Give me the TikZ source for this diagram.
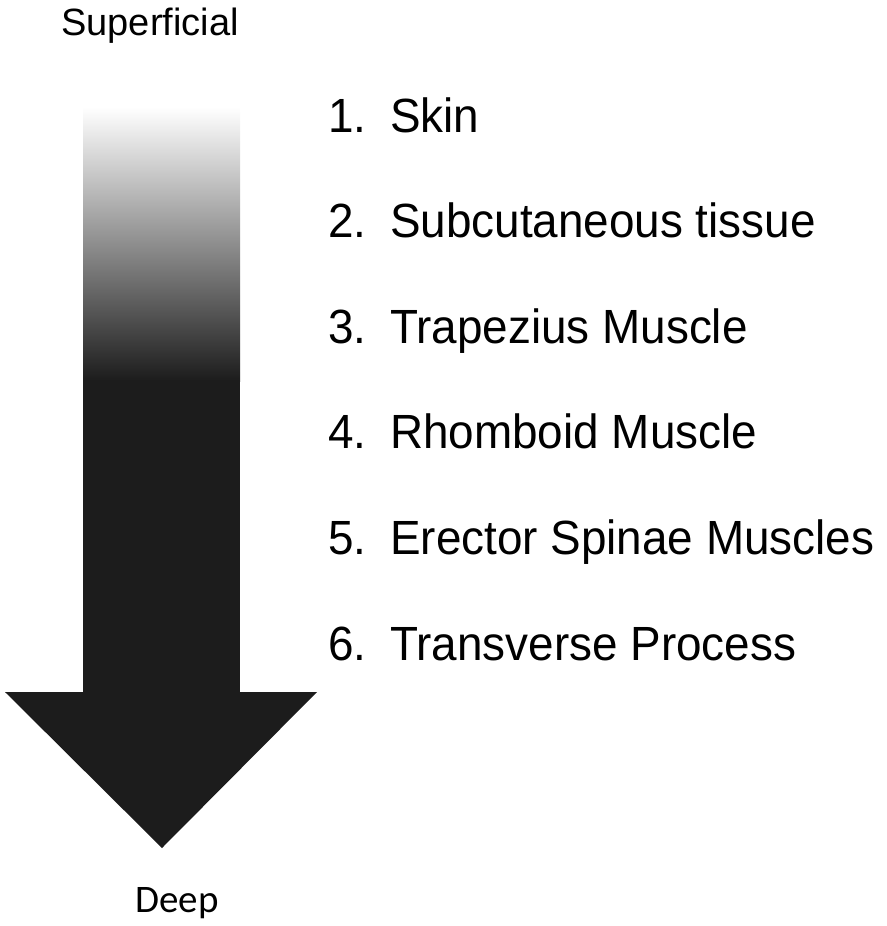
\documentclass[tikz,border=0pt]{standalone}
\usepackage{fontspec}
\setmainfont{Liberation Sans}
\newfontfamily\listfont[FakeStretch=0.955]{Liberation Sans}
\newfontfamily\deepfont{Carlito}
\definecolor{arrowdark}{HTML}{1C1C1C}
\tikzset{
  layer/.style={anchor=base west, inner sep=0pt, font=\listfont\fontsize{48}{58}\selectfont},
  depthlabel/.style={anchor=base, inner sep=0pt, font=\fontsize{38}{46}\selectfont}
}
\begin{document}
\begin{tikzpicture}[x=1pt, y=-1pt]
  \useasboundingbox (0,0) rectangle (886,926);
  \shade[top color=white, bottom color=arrowdark] (83,107) rectangle (240,381);
  \fill[arrowdark] (83,380) rectangle (240,693);
  \fill[arrowdark] (5,692) -- (317,692) -- (162,848) -- cycle;
  \node[depthlabel] (superficial) at (150,35) {Superficial};
  \node[depthlabel, font=\deepfont\fontsize{39}{46}\selectfont] (deep) at (177,912) {Deep};
  \foreach \n/\t in {1/Skin, 2/Subcutaneous tissue, 3/Trapezius Muscle,
                     4/Rhomboid Muscle, 5/Erector Spinae Muscles, 6/Transverse Process}
    \node[layer] (item\n) at (328, {132+105.6*(\n-1)}) {\makebox[62pt][l]{\n.}\t};
\end{tikzpicture}
\end{document}
